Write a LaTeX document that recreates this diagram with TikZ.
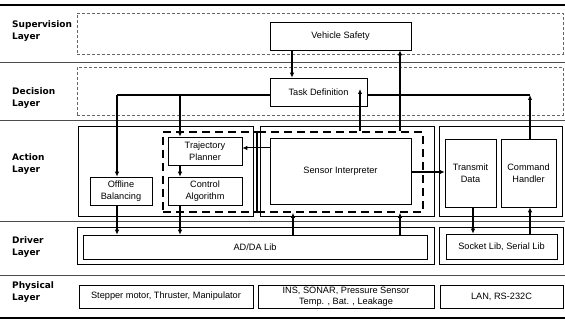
\documentclass[tikz,border=0pt]{standalone}
\usepackage{fontspec}
\setmainfont{Liberation Sans}
\newfontfamily\labfont{DejaVu Sans}
\usetikzlibrary{arrows.meta}
\begin{document}
\begin{tikzpicture}[x=1pt,y=-1pt,
  sep/.style={draw=black!70, line width=0.8pt},
  edge/.style={draw=black, line width=1.8pt},
  zone/.style={draw=black!60, densely dashed, line width=0.4pt, inner sep=0pt},
  frame/.style={draw=black, line width=0.6pt, inner sep=0pt},
  box/.style={draw=black, line width=0.6pt, inner sep=0pt, align=center, font=\fontsize{9.2}{11.5}\selectfont},
  grp/.style={draw=black, dash pattern=on 8pt off 5pt, line width=1.6pt, inner sep=0pt},
  arr/.style={line width=1.3pt, -{Latex[length=5pt,width=4.5pt]}},
  ln/.style={line width=1.3pt},
  lay/.style={anchor=west, align=left, inner sep=0pt, font=\labfont\bfseries\fontsize{9}{11.5}\selectfont},
]
\useasboundingbox (0,0) rectangle (565,320);

% layer separators
\draw[edge] (0,5) -- (565,5);
\draw[sep] (0,62) -- (565,62);
\draw[sep] (0,120) -- (565,120);
\draw[sep] (0,221) -- (565,221);
\draw[sep] (0,275) -- (565,275);
\draw[edge] (0,318) -- (565,318);

% layer labels
\node[lay] (l1) at (12,31) {Supervision\\Layer};
\node[lay] (l2) at (12,98) {Decision\\Layer};
\node[lay] (l3) at (12,164) {Action\\Layer};
\node[lay] (l4) at (12,247) {Driver\\Layer};
\node[lay] (l5) at (12,292) {Physical\\Layer};

% supervision / decision zones
\node[zone, minimum width=486pt, minimum height=41pt] (zs) at (320,33.5) {};
\node[zone, minimum width=486pt, minimum height=48pt] (zd) at (320,91) {};
\node[box, minimum width=141pt, minimum height=28pt] (vs) at (340.5,36) {Vehicle Safety};
\node[box, minimum width=97pt, minimum height=28pt] (td) at (318.5,92) {Task Definition};

% action layer frames
\node[frame, minimum width=175pt, minimum height=90pt] (al) at (165.5,171) {};
\node[frame, minimum width=174pt, minimum height=90pt] (am) at (347,171) {};
\node[frame, minimum width=123pt, minimum height=90pt] (ar) at (500.5,171) {};
\node[grp, minimum width=94pt, minimum height=80pt] (g1) at (210,172) {};
\node[grp, minimum width=166pt, minimum height=80pt] (g2) at (340,172) {};

\node[box, minimum width=74pt, minimum height=28pt] (tp) at (205,151) {Trajectory\\Planner};
\node[box, minimum width=74pt, minimum height=28pt] (ca) at (205,191) {Control\\Algorithm};
\node[box, minimum width=62pt, minimum height=28pt] (ob) at (121,191) {Offline\\Balancing};
\node[box, minimum width=141pt, minimum height=66pt] (si) at (340.5,171) {Sensor Interpreter};
\node[box, minimum width=51pt, minimum height=68pt] (tx) at (470.5,173) {Transmit\\Data};
\node[box, minimum width=55pt, minimum height=68pt] (ch) at (528.5,173) {Command\\Handler};

% driver layer
\node[frame, minimum width=357pt, minimum height=37pt] (ado) at (255.5,245.5) {};
\node[box, minimum width=344pt, minimum height=24pt] (ad) at (255,247) {AD/DA Lib};
\node[frame, minimum width=124pt, minimum height=37pt] (sko) at (501,245.5) {};
\node[box, minimum width=111pt, minimum height=25pt] (sk) at (501.5,246.5) {Socket Lib, Serial Lib};

% physical layer
\node[box, minimum width=174pt, minimum height=23pt] (p1) at (166,296.5) {Stepper motor, Thruster, Manipulator};
\node[box, minimum width=176pt, minimum height=23pt, font=\fontsize{9.2}{11}\selectfont] (p2) at (346,296.5) {INS, SONAR, Pressure Sensor\\Temp. , Bat. , Leakage};
\node[box, minimum width=123pt, minimum height=23pt] (p3) at (501.5,296.5) {LAN, RS-232C};

% helper coordinates
\coordinate (cL) at (117,95);
\coordinate (cM) at (180,95);
\coordinate (cR) at (530,95);
\coordinate (tdin) at (360,89);

% connectors
\draw[arr] (vs.south -| 292,0) -- (td.north -| 292,0);
\draw[ln] (td.west |- cL) -- (cL);
\draw[arr] (cL) -- (ob.north -| cL);
\draw[arr] (cM) -- (tp.north -| cM);
\draw[ln] (td.east |- cR) -- (cR);
\draw[arr] (ch.north -| cR) -- (cR);
\draw[arr] (g2.north -| tdin) -- (tdin);
\draw[arr] (g2.north -| 400,0) -- (vs.south -| 400,0);
\draw[arr] (tp.south -| cM) -- (ca.north -| cM);
\draw[arr, line width=1pt] (si.west |- 0,148) -- (tp.east |- 0,148);
\draw[arr] (si.east |- 0,172) -- (tx.west |- 0,172);
\draw[arr] (ob.south -| cL) -- (ad.north -| cL);
\draw[arr] (ca.south -| cM) -- (ad.north -| cM);
\draw[arr] (ad.north -| 293,0) -- (g2.south -| 293,0);
\draw[arr] (ad.north -| 400,0) -- (g2.south -| 400,0);
\draw[arr] (tx.south -| 473,0) -- (sk.north -| 473,0);
\draw[arr] (sk.north -| 530,0) -- (ch.south -| 530,0);
\end{tikzpicture}
\end{document}
